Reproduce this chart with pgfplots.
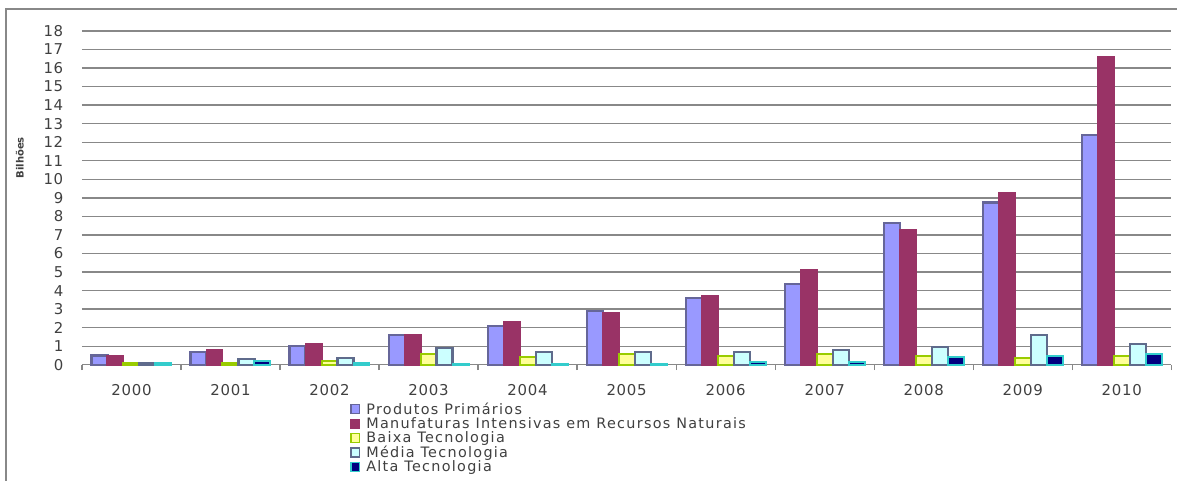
\documentclass[border=0pt]{standalone}
\usepackage{pgfplots}
\pgfplotsset{compat=1.18}
\usepackage{fontspec}
\setmainfont{DejaVu Sans}
\newfontfamily\legfont[LetterSpace=9]{DejaVu Sans}
\newfontfamily\tickfont[LetterSpace=5]{DejaVu Sans}
\definecolor{txt}{HTML}{404040}
\definecolor{gridc}{HTML}{888888}
\definecolor{primF}{HTML}{9999FF}
\definecolor{primD}{HTML}{666699}
\definecolor{manF}{HTML}{993366}
\definecolor{baixF}{HTML}{FFFF99}
\definecolor{baixD}{HTML}{99CC00}
\definecolor{medF}{HTML}{CCFFFF}
\definecolor{medD}{HTML}{5F6B8C}
\definecolor{altF}{HTML}{000080}
\definecolor{altD}{HTML}{33CCCC}
\begin{document}
\begin{tikzpicture}
\begin{axis}[
  scale only axis,
  width=817.5pt, height=250.5pt,
  ybar=0pt, bar width=12pt,
  xmin=-0.5, xmax=10.5,
  ymin=0, ymax=18,
  xtick={0,...,10},
  xticklabels={2000,2001,2002,2003,2004,2005,2006,2007,2008,2009,2010},
  ytick={0,1,...,18},
  ymajorgrids,
  grid style={gridc, line width=1pt},
  axis line style={draw=none},
  major tick length=0pt,
  extra x ticks={-0.5,0.5,...,10.5},
  extra x tick labels={},
  extra x tick style={grid=none, major tick length=4pt, tick align=outside,
    tick pos=bottom, tick style={gridc, line width=0.9pt}},
  tick label style={font=\tickfont\fontsize{11.2}{12}\selectfont, text=txt},
  yticklabel style={xshift=-10.5pt},
  xticklabel style={yshift=-11pt},
  /pgf/number format/assume math mode=true,
  clip=false,
  legend style={at={(0.246,-0.105)}, anchor=north west, draw=none,
    fill=none, font=\legfont\fontsize{10.8}{10}\selectfont, text=txt,
    inner sep=0pt, row sep=-3pt, cells={anchor=west},
    nodes={inner xsep=4.5pt}},
  legend image code/.code={\draw[#1, line width=1.1pt] (0pt,-3pt) rectangle (6.5pt,3.6pt);},
]
\addplot[fill=primF, draw=primD, line width=1.6pt] coordinates {
  (0,0.5) (1,0.7) (2,1.0) (3,1.6) (4,2.1) (5,2.9) (6,3.6) (7,4.35) (8,7.65) (9,8.75) (10,12.4)};
\addlegendentry{Produtos Primários}
\addplot[fill=manF, draw=manF, line width=1.5pt] coordinates {
  (0,0.5) (1,0.8) (2,1.1) (3,1.6) (4,2.3) (5,2.8) (6,3.7) (7,5.1) (8,7.25) (9,9.25) (10,16.6)};
\addlegendentry{Manufaturas Intensivas em Recursos Naturais}
\addplot[fill=baixF, draw=baixD, line width=1.5pt] coordinates {
  (0,0.08) (1,0.1) (2,0.2) (3,0.6) (4,0.4) (5,0.6) (6,0.5) (7,0.6) (8,0.5) (9,0.35) (10,0.5)};
\addlegendentry{Baixa Tecnologia}
\addplot[fill=medF, draw=medD, line width=1.6pt] coordinates {
  (0,0.08) (1,0.3) (2,0.35) (3,0.9) (4,0.7) (5,0.7) (6,0.7) (7,0.8) (8,0.95) (9,1.6) (10,1.1)};
\addlegendentry{Média Tecnologia}
\addplot[fill=altF, draw=altD, line width=1.5pt] coordinates {
  (0,0.08) (1,0.2) (2,0.08) (3,0.05) (4,0.05) (5,0.05) (6,0.15) (7,0.15) (8,0.4) (9,0.5) (10,0.6)};
\addlegendentry{Alta Tecnologia}
\node[rotate=90, font=\fontsize{7.5}{8}\selectfont\bfseries, text=txt]
  at (axis description cs:-0.057,0.62) {Bilhões};
\end{axis}
\path (-61.5pt,-87pt) rectangle (822pt,273.75pt);
\draw[gridc, line width=1.1pt] (-57pt,-87pt) -- (-57pt,267pt) -- (822pt,267pt);
\end{tikzpicture}
\end{document}
